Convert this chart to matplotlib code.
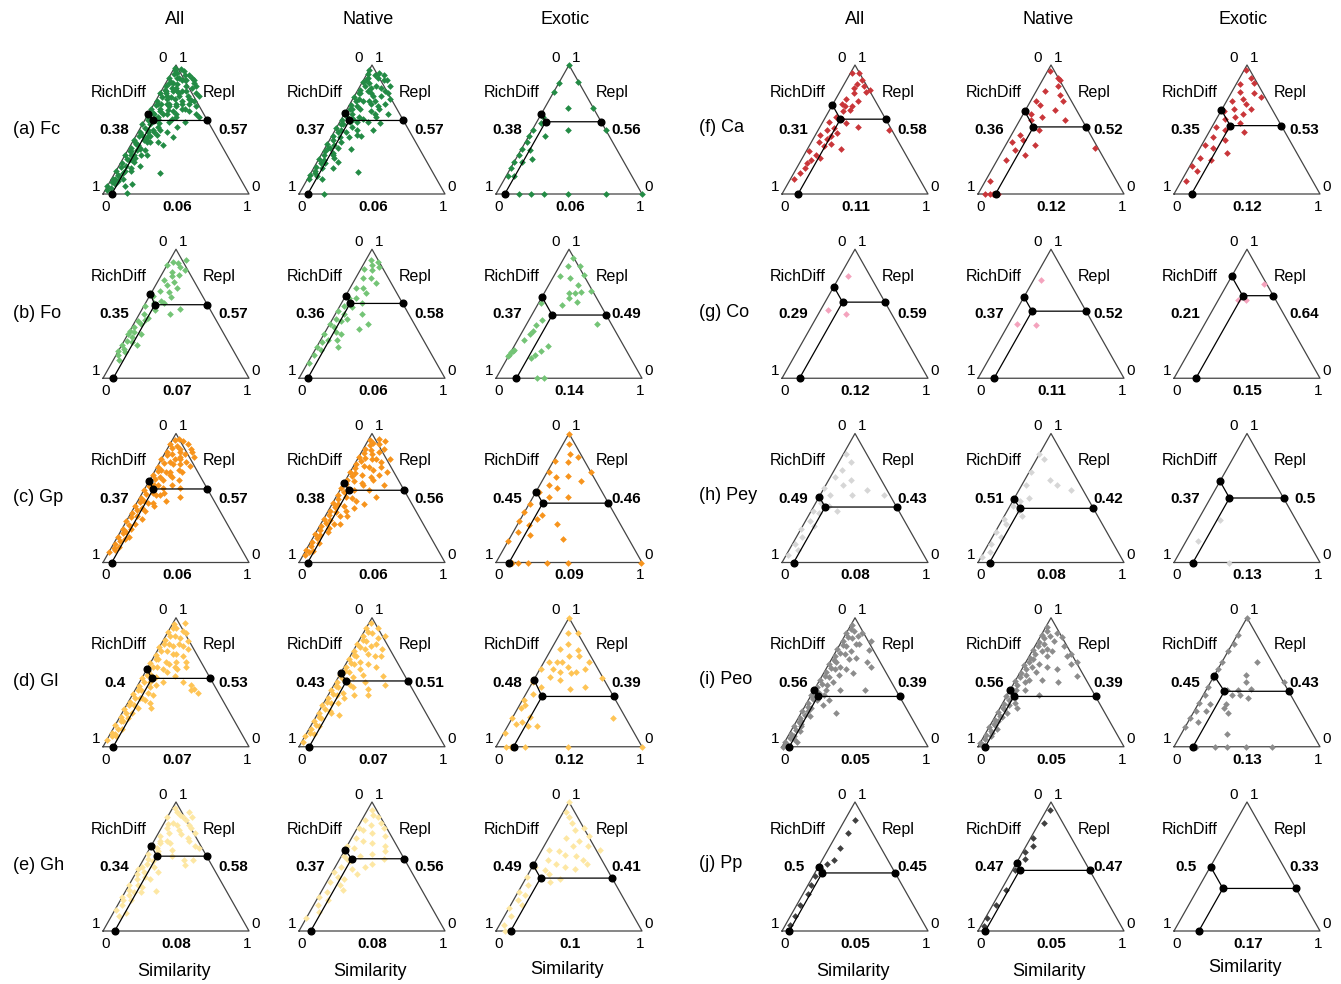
import matplotlib
matplotlib.use("Agg")
import matplotlib.pyplot as plt

plt.rcParams['font.family'] = ['Liberation Sans', 'DejaVu Sans']

FIG_W, FIG_H = 1341, 984

COL_TITLES = ["All", "Native", "Exotic", "All", "Native", "Exotic"]
ROW_LABELS = [["(a) Fc", "(f) Ca"], ["(b) Fo", "(g) Co"], ["(c) Gp", "(h) Pey"],
              ["(d) Gl", "(i) Peo"], ["(e) Gh", "(j) Pp"]]
ROW_COLORS = [["#238b45", "#c9363a"], ["#74c476", "#f4a3bd"], ["#f7941d", "#d6d6d6"],
              ["#fec455", "#8c8c8c"], ["#fde7a3", "#404040"]]

RICHDIFF_LBL = [
    ["0.38", "0.37", "0.38", "0.31", "0.36", "0.35"],
    ["0.35", "0.36", "0.37", "0.29", "0.37", "0.21"],
    ["0.37", "0.38", "0.45", "0.49", "0.51", "0.37"],
    ["0.4", "0.43", "0.48", "0.56", "0.56", "0.45"],
    ["0.34", "0.37", "0.49", "0.5", "0.47", "0.5"],
]
REPL_LBL = [
    ["0.57", "0.57", "0.56", "0.58", "0.52", "0.53"],
    ["0.57", "0.58", "0.49", "0.59", "0.52", "0.64"],
    ["0.57", "0.56", "0.46", "0.43", "0.42", "0.5"],
    ["0.53", "0.51", "0.39", "0.39", "0.39", "0.43"],
    ["0.58", "0.56", "0.41", "0.45", "0.47", "0.33"],
]
SIM_LBL = [
    ["0.06", "0.06", "0.06", "0.11", "0.12", "0.12"],
    ["0.07", "0.06", "0.14", "0.12", "0.11", "0.15"],
    ["0.06", "0.06", "0.09", "0.08", "0.08", "0.13"],
    ["0.07", "0.07", "0.12", "0.05", "0.05", "0.13"],
    ["0.08", "0.08", "0.1", "0.05", "0.05", "0.17"],
]

# points as (Similarity %, Repl %) ; RichDiff = 100 - Sim - Repl
FC_ALL = [(1,3),(0,6),(2,9),(1,12),(3,15),(0,18),(2,21),(1,24),(3,27),(0,30),(2,33),(1,36),(3,39),(0,42),(2,45),
          (1,48),(3,51),(0,54),(2,57),(1,60),(3,63),(0,66),(2,69),(1,72),(3,75),(0,78),(2,81),(1,84),(3,87),(0,90),
          (2,93),(1,96),(0,98),(5,10),(4,14),(6,18),(5,22),(7,26),(4,30),(6,34),(5,38),(7,42),(4,46),(6,50),(5,54),
          (7,58),(4,62),(6,66),(5,70),(7,74),(4,78),(6,82),(5,86),(7,90),(4,94),(9,25),(11,30),(8,35),(12,40),(10,45),
          (9,50),(11,55),(8,60),(12,65),(10,70),(9,75),(11,80),(8,85),(12,88),(10,92),(14,50),(17,56),(13,62),(16,68),
          (18,72),(14,76),(17,80),(15,84),(13,88),(20,60),(23,66),(19,70),(22,74),(25,78),(20,82),(36,60),(24,73),
          (26,44),(31,16),(16,1),(16,8),(20,48),(22,38),(15,30),(10,18),(28,56),(30,68),(12,6),(14,22),(18,40),(25,52),
          (8,12),(33,62),(27,64),(13,92),(16,90),(19,86),(22,84),(18,88),(8,95),(5,97),(10,88),(14,80),(20,76),
          (24,70),(12,74),(16,64),(10,62),(18,58),(21,66),(26,72),(28,76),(15,70),(19,62),(12,52),(14,46),(8,44),
          (10,40),(6,30),(8,28),(3,5),(4,8),(2,12),(6,16),(9,20),(12,34),(7,48),(9,58),(11,68),(13,78),(8,80),(6,76),
          (3,70),(4,58),(2,40),(3,33),(5,26),(7,36),(9,42),(11,48),(7,64),(9,70),(3,80),(2,86),(6,90),(9,82)]
FC_NAT = [(1,12),(0,15),(2,18),(1,21),(3,24),(0,27),(2,30),(1,33),(3,36),(0,39),(2,42),(1,45),(3,48),(0,51),(2,54),
          (1,57),(3,60),(0,63),(2,66),(1,69),(3,72),(0,75),(2,78),(1,81),(3,84),(0,87),(2,90),(1,93),(0,96),(5,14),
          (6,20),(4,26),(7,32),(5,38),(6,44),(4,50),(7,56),(5,62),(6,68),(4,74),(7,80),(5,86),(6,92),(10,28),(9,36),
          (12,44),(10,52),(11,60),(9,66),(12,72),(10,78),(11,84),(9,90),(15,58),(17,64),(14,70),(18,76),(15,82),(16,88),
          (21,62),(24,70),(22,78),(20,84),(32,17),(17,0),(23,60),(20,45),(18,35),(14,25),(28,55),(10,12),(26,50),
          (30,62),(13,20),(8,94),(12,92),(14,88),(19,80),(13,76),(16,72),(20,68),(25,74),(22,66),(12,56),(15,50),
          (8,48),(9,40),(8,30),(6,24),(3,16),(2,36),(3,54),(8,58),(3,66),(8,72),(3,78),(8,82),(2,88),(19,56),(17,46)]
FC_EXO = [(0,100),(0,86),(13,87),(0,79),(16,67),(33,67),(0,50),(0,45),(1,40),(0,35),(1,30),(0,25),(0,20),(1,14),
          (11,45),(6,34),(11,27),(5,25),(5,14),(24,50),(50,50),(16,0),(24,0),(33,0),(49,0),(75,0),(100,0),(3,55),(2,60)]

FO_ALL = [(0,88),(7,89),(14,84),(8,79),(8,72),(5,68),(15,63),(26,54),(21,50),(9,53),(7,47),(5,42),(0,37),(4,32),
          (0,34),(0,26),(0,21),(9,34),(10,26),(6,58),(10,60),(3,90),(10,86),(12,80),(4,76),(11,75),(2,64),(12,67),
          (1,56),(3,50),(6,45),(2,44),(1,40),(3,36),(2,29),(6,28),(1,18),(3,23),(5,20),(4,14),(13,58),(16,70),(6,82),
          (11,92)]
FO_NAT = [(6,88),(3,92),(9,90),(2,85),(8,84),(12,86),(16,74),(5,78),(10,78),(4,70),(9,70),(13,66),(3,62),(8,62),
          (22,38),(26,42),(12,34),(11,30),(0,34),(1,18),(0,24),(2,28),(5,30),(7,36),(4,40),(2,46),(6,50),(1,52),
          (9,55),(3,56),(14,58),(18,50),(7,44),(0,42),(10,46),(4,22),(1,12),(15,24)]
FO_EXO = [(6,93),(6,87),(14,87),(20,80),(4,79),(20,72),(17,66),(21,66),(25,67),(31,68),(19,62),(26,59),(17,57),
          (48,42),(6,34),(7,37),(7,41),(9,45),(4,30),(1,21),(0,18),(0,17),(18,18),(20,21),(23,25),(16,16),(28,0),
          (33,0),(2,58),(1,22),(0,20),(12,78)]

GP_ALL = [(0,8),(2,11),(1,14),(3,17),(0,20),(2,23),(1,26),(3,29),(0,32),(2,35),(1,38),(3,41),(0,44),(2,47),(1,50),
          (3,53),(0,56),(2,59),(1,62),(3,65),(0,68),(2,71),(1,74),(3,77),(0,80),(2,83),(1,86),(3,89),(0,92),(2,95),
          (5,12),(6,18),(4,24),(7,30),(5,36),(6,42),(4,48),(7,54),(5,60),(6,66),(4,72),(7,78),(5,84),(6,90),(4,96),
          (9,40),(11,46),(10,52),(12,58),(9,64),(11,70),(10,76),(12,82),(9,88),(15,54),(17,60),(14,66),(16,72),
          (18,78),(14,84),(27,51),(22,75),(20,64),(24,58),(19,48),(13,44),(8,20),(16,88),(12,92),(8,94),(10,86),
          (13,80),(15,76),(12,68),(8,70),(8,60),(13,52),(10,34),(6,26),(3,10),(8,46),(9,80),(19,70),(21,82),(18,86)]
GP_NAT = [(1,6),(0,10),(2,13),(1,16),(3,19),(0,22),(2,25),(1,28),(3,31),(0,34),(2,37),(1,40),(3,43),(0,46),(2,49),
          (1,52),(3,55),(0,58),(2,61),(1,64),(3,67),(0,70),(2,73),(1,76),(3,79),(0,82),(2,85),(1,88),(3,91),(1,95),
          (5,9),(6,15),(4,21),(7,27),(5,33),(6,39),(4,45),(7,51),(5,57),(6,63),(4,69),(7,75),(5,81),(6,87),(4,93),
          (10,36),(9,44),(11,50),(10,56),(12,62),(9,68),(11,74),(10,80),(12,86),(9,92),(14,60),(16,66),(15,72),
          (17,78),(14,88),(25,70),(27,51),(17,42),(22,45),(28,60),(13,30),(15,36),(20,56),(19,64),(22,80),(7,96),
          (12,94),(8,84),(13,80),(15,48),(12,40),(8,24),(9,30),(3,8),(19,74),(21,68)]
GP_EXO = [(0,100),(4,92),(9,84),(15,82),(10,78),(1,79),(1,70),(8,66),(16,67),(27,63),(30,70),(13,58),(24,51),
          (11,51),(2,55),(13,37),(11,34),(8,29),(13,21),(27,30),(37,18),(0,39),(0,32),(0,17),(11,0),(15,0),(22,0),
          (35,0),(49,0),(99,0),(3,24),(1,45),(6,60)]

GL_ALL = [(0,5),(2,8),(1,11),(3,14),(0,17),(2,20),(1,23),(3,26),(0,29),(2,32),(1,35),(3,38),(0,41),(2,44),(1,47),
          (3,50),(0,53),(2,56),(1,59),(3,62),(0,65),(2,68),(1,71),(3,74),(0,77),(2,80),(1,83),(3,86),(0,89),(2,92),
          (1,95),(5,8),(6,14),(4,20),(7,26),(5,32),(6,38),(4,44),(7,50),(5,56),(6,62),(4,68),(7,74),(5,80),(6,86),
          (4,92),(9,30),(11,36),(10,42),(12,48),(9,54),(11,60),(10,66),(12,72),(9,78),(11,84),(10,90),(14,40),(16,50),
          (15,58),(17,66),(14,72),(16,78),(44,42),(40,45),(36,48),(38,44),(30,50),(15,34),(18,30),(22,55),(26,62),
          (20,70),(8,96),(13,88),(17,82),(20,76),(18,62),(13,64),(9,46),(8,38),(6,22),(3,10),(12,80),(24,66),(21,60)]
GL_NAT = [(1,4),(0,8),(2,11),(1,14),(3,17),(0,20),(2,23),(1,26),(3,29),(0,32),(2,35),(1,38),(3,41),(0,44),(2,47),
          (1,50),(3,53),(0,56),(2,59),(1,62),(3,65),(0,68),(2,71),(1,74),(3,77),(0,80),(2,83),(1,86),(3,89),(0,92),
          (1,96),(5,10),(6,16),(4,22),(7,28),(5,34),(6,40),(4,46),(7,52),(5,58),(6,64),(4,70),(7,76),(5,82),(6,88),
          (10,34),(9,42),(11,48),(10,54),(12,60),(9,66),(11,72),(10,78),(12,84),(14,46),(16,56),(15,64),(17,70),
          (27,40),(25,45),(20,50),(30,55),(35,48),(15,25),(22,62),(19,76),(8,92),(13,80),(16,86),(21,70),(9,26),
          (12,38),(18,40)]
GL_EXO = [(0,100),(5,88),(12,88),(9,80),(6,76),(19,75),(31,66),(3,66),(9,66),(12,66),(18,62),(9,60),(15,58),
          (23,57),(26,58),(31,60),(10,54),(18,52),(28,45),(38,46),(46,53),(8,46),(5,41),(1,36),(4,32),(12,23),(0,22),
          (5,18),(8,19),(1,11),(14,16),(20,16),(69,22),(7,0),(10,0),(12,0),(20,0),(49,0),(100,0),(2,30),(0,50),
          (1,60),(22,70),(15,70)]

GH_ALL = [(2,95),(5,92),(8,90),(11,88),(14,86),(6,84),(3,83),(10,82),(18,82),(20,80),(4,80),(13,78),(7,76),
          (16,75),(22,72),(2,74),(9,70),(12,68),(34,64),(30,66),(5,68),(16,63),(5,64),(31,51),(34,55),(28,55),(1,60),
          (3,56),(7,54),(10,50),(2,50),(5,46),(1,44),(8,42),(3,40),(0,36),(6,36),(10,34),(11,30),(21,31),(2,32),
          (4,28),(0,26),(7,24),(9,14),(3,20),(1,16),(5,12),(12,40),(15,46),(18,58),(24,70),(8,60),(0,88),(4,70),
          (1,66),(7,62),(4,52),(0,48),(6,30),(2,24),(13,92),(17,88),(25,76)]
GH_NAT = [(3,94),(6,90),(10,88),(14,84),(2,86),(8,82),(18,80),(5,78),(12,76),(22,74),(3,72),(9,70),(16,68),
          (26,66),(6,64),(20,60),(13,58),(30,56),(2,58),(8,54),(24,52),(4,50),(12,48),(1,46),(18,44),(6,42),(2,38),
          (10,36),(14,32),(4,30),(1,26),(8,24),(3,20),(6,15),(0,10),(11,40),(28,62),(20,50),(0,66),(1,80),(5,56)]
GH_EXO = [(0,100),(2,92),(6,88),(10,84),(15,78),(20,80),(27,74),(12,72),(22,70),(30,66),(40,63),(5,63),(12,62),
          (18,59),(26,58),(32,55),(8,55),(15,52),(22,50),(30,48),(10,47),(24,40),(18,38),(2,50),(0,42),(4,36),(1,30),
          (6,28),(3,24),(8,20),(4,12),(3,5),(6,0),(10,0),(0,18),(14,44),(36,52),(20,66)]

CA_ALL = [(1,94),(6,94),(9,85),(11,88),(14,84),(20,81),(18,79),(10,78),(7,74),(6,70),(9,68),(14,65),(10,64),
          (14,68),(7,60),(10,51),(6,50),(14,47),(9,43),(14,39),(10,37),(23,35),(26,52),(48,50),(5,24),(7,26),(12,28),
          (6,20),(4,16),(2,33),(4,56),(12,58),(16,72),(8,82),(3,46),(5,40),(11,45),(2,12),(8,30),(16,55)]
CA_NAT = [(2,95),(10,90),(6,80),(18,77),(8,69),(20,65),(31,57),(8,57),(6,46),(17,50),(20,38),(8,34),(17,30),(6,26),
          (13,84),(4,72),(14,60),(3,40),(10,42),(62,36),(5,0),(8,0),(10,0),(14,0),(3,10),(12,88),(22,72),(5,62)]
CA_EXO = [(1,96),(8,90),(3,85),(12,86),(6,79),(16,78),(10,74),(4,72),(14,70),(20,66),(8,66),(2,64),(12,60),(6,58),
          (18,55),(3,52),(10,50),(24,48),(5,44),(14,42),(2,38),(9,36),(20,32),(4,28),(12,26),(1,22),(7,18),(3,10),
          (16,62),(22,75)]

CO_ALL = [(6,79),(5,53),(19,50)]
CO_NAT = [(5,76),(6,42),(19,41)]
CO_EXO = [(25,73),(13,61),(19,61)]

PEY_ALL = [(2,84),(8,78),(15,64),(30,56),(44,52),(22,52),(7,52),(4,46),(1,40),(6,38),(3,32),(8,28),(0,26),(4,20),
           (2,14),(6,10),(1,6),(10,44),(12,60),(0,58),(3,66),(5,72),(18,40)]
PEY_NAT = [(0,84),(5,80),(17,64),(24,60),(36,56),(5,48),(2,44),(8,40),(1,34),(4,30),(0,24),(6,20),(2,14),(4,8),
           (1,4),(10,50),(12,36),(3,60),(1,70)]
PEY_EXO = [(15,33),(8,17),(38,0)]

PEO_ALL = [(0,4),(2,7),(1,10),(3,13),(0,16),(2,19),(1,22),(3,25),(0,28),(2,31),(1,34),(3,37),(0,40),(2,43),(1,46),
           (3,49),(0,52),(2,55),(1,58),(3,61),(0,64),(2,67),(1,70),(3,73),(0,76),(2,79),(1,82),(3,85),(0,88),(2,91),
           (1,94),(5,6),(6,12),(4,18),(7,24),(5,30),(6,36),(4,42),(7,48),(5,54),(6,60),(4,66),(7,72),(5,78),(6,84),
           (4,90),(9,40),(10,50),(11,56),(9,62),(12,68),(10,74),(11,80),(9,86),(11,88),(13,80),(22,75),(30,62),
           (16,69),(20,57),(35,44),(24,26),(12,32),(14,36),(18,44),(14,60),(25,66),(20,82),(8,4),(3,1),(1,0),
           (2,2),(4,8),(3,20),(5,16),(4,28),(2,38),(8,44)]
PEO_NAT = [(0,3),(2,6),(1,9),(3,12),(0,15),(2,18),(1,21),(3,24),(0,27),(2,30),(1,33),(3,36),(0,39),(2,42),(1,45),
           (3,48),(0,51),(2,54),(1,57),(3,60),(0,63),(2,66),(1,69),(3,72),(0,75),(2,78),(1,81),(3,84),(0,87),(2,90),
           (1,93),(5,8),(6,14),(4,20),(7,26),(5,32),(6,38),(4,44),(7,50),(5,56),(6,62),(4,68),(7,74),(5,80),(6,86),
           (10,44),(9,52),(11,58),(10,64),(12,70),(9,76),(11,82),(10,88),(15,85),(20,78),(28,72),(32,64),(24,60),
           (30,50),(18,52),(40,55),(22,40),(12,30),(26,70),(35,66),(16,62),(14,74),(2,2),(4,11),(3,17),(5,23),
           (3,29),(8,34)]
PEO_EXO = [(0,100),(0,87),(0,74),(0,66),(0,60),(0,53),(0,46),(1,40),(0,34),(1,28),(0,22),(1,80),(24,66),(21,56),
           (24,50),(22,44),(20,40),(25,40),(19,33),(19,30),(8,33),(8,28),(7,19),(31,10),(24,26),(50,50),(12,0),
           (15,0),(28,0),(36,0),(49,0),(67,0),(30,45),(32,38),(14,44),(0,15)]

PP_ALL = [(7,86),(7,76),(8,64),(8,55),(4,47),(1,43),(3,29),(2,20),(3,12),(3,5),(5,52),(2,36)]
PP_NAT = [(2,94),(3,84),(2,72),(2,61),(4,56),(2,47),(3,32),(2,20),(1,10),(2,4),(5,66)]
PP_EXO = []

POINTS = [
    [FC_ALL, FC_NAT, FC_EXO, CA_ALL, CA_NAT, CA_EXO],
    [FO_ALL, FO_NAT, FO_EXO, CO_ALL, CO_NAT, CO_EXO],
    [GP_ALL, GP_NAT, GP_EXO, PEY_ALL, PEY_NAT, PEY_EXO],
    [GL_ALL, GL_NAT, GL_EXO, PEO_ALL, PEO_NAT, PEO_EXO],
    [GH_ALL, GH_NAT, GH_EXO, PP_ALL, PP_NAT, PP_EXO],
]

# ---- layout (pixels) ----
COL_X = [103, 299, 496, 782, 978, 1174]
ROW_Y = [194, 378.25, 562.5, 746.75, 931]
TRI_W, TRI_H = 146, 129
EDGE = "#444444"


def tern(sim, repl):
    return sim + repl / 2.0, repl


fig = plt.figure(figsize=(FIG_W / 100, FIG_H / 100), dpi=100)
fig.patch.set_facecolor("white")

for r in range(5):
    for c in range(6):
        bx, by = COL_X[c], ROW_Y[r]
        ax = fig.add_axes([bx / FIG_W, 1 - by / FIG_H, TRI_W / FIG_W, TRI_H / FIG_H])
        ax.set_xlim(0, 1)
        ax.set_ylim(0, 1)
        ax.axis("off")
        col = ROW_COLORS[r][c // 3]
        # points
        pts = POINTS[r][c]
        xs = [tern(s / 100, p / 100)[0] for s, p in pts]
        ys = [tern(s / 100, p / 100)[1] for s, p in pts]
        ax.plot(xs, ys, "D", ms=3.4, color=col, mec="none", clip_on=False, zorder=2)
        # triangle
        ax.plot([0, 1, 0.5, 0], [0, 0, 1, 0], color=EDGE, lw=0.9, clip_on=False, zorder=1)
        # means
        d = float(RICHDIFF_LBL[r][c]); rp = float(REPL_LBL[r][c]); s = float(SIM_LBL[r][c])
        cx, cy = tern(s, rp)
        rx, ry = 1 - rp / 2, rp
        lx, ly = (1 - d) / 2, 1 - d
        ax.plot([lx, cx, rx], [ly, cy, ry], color="black", lw=0.9, clip_on=False, zorder=3)
        ax.plot([cx, s], [cy, 0], color="black", lw=0.9, clip_on=False, zorder=3)
        ax.plot([lx, cx, rx, s], [ly, cy, ry, 0], "o", ms=4.8, color="black", clip_on=False, zorder=4)
        # labels
        tk = dict(fontsize=11, ha="center", va="center")
        ax.text(0.41, 1.058, "0", **tk)
        ax.text(0.548, 1.058, "1", **tk)
        ax.text(-0.045, 0.057, "1", **tk)
        ax.text(1.047, 0.057, "0", **tk)
        ax.text(0.02, -0.10, "0", **tk)
        ax.text(0.986, -0.10, "1", **tk)
        ax.text(0.11, 0.79, "RichDiff", fontsize=11.5, ha="center", va="center")
        ax.text(0.795, 0.79, "Repl", fontsize=11.5, ha="center", va="center")
        bk = dict(fontsize=11, ha="center", va="center", fontweight="bold")
        ax.text(0.08, 0.496, RICHDIFF_LBL[r][c], **bk)
        ax.text(0.895, 0.496, REPL_LBL[r][c], **bk)
        ax.text(0.505, -0.10, SIM_LBL[r][c], **bk)

TITLE_X = [175, 368, 565, 855, 1048, 1243]
SIM_Y = [972, 972, 970, 971, 971, 968]
for c in range(6):
    fig.text(TITLE_X[c] / FIG_W, 1 - 20 / FIG_H, COL_TITLES[c], fontsize=13, ha="center", va="center")
    fig.text((COL_X[c] + 71) / FIG_W, 1 - SIM_Y[c] / FIG_H, "Similarity", fontsize=13, ha="center", va="center")

LABEL_Y = [130, 314, 497, 681, 865]
for r in range(5):
    fig.text(13 / FIG_W, 1 - LABEL_Y[r] / FIG_H, ROW_LABELS[r][0], fontsize=13, ha="left", va="center")
    fig.text(699 / FIG_W, 1 - (LABEL_Y[r] - 2) / FIG_H, ROW_LABELS[r][1], fontsize=13, ha="left", va="center")

fig.savefig("out.png", dpi=100, facecolor="white")
